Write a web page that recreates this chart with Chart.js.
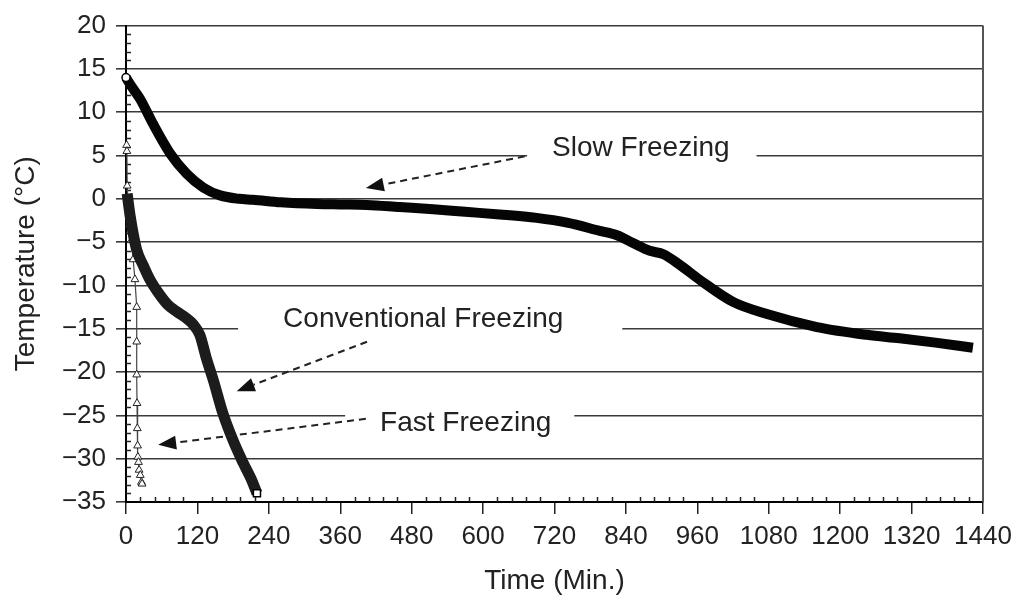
<!DOCTYPE html>
<html>
<head>
<meta charset="utf-8">
<title>Freezing curves</title>
<script src="https://cdn.jsdelivr.net/npm/chart.js@4.4.1/dist/chart.umd.min.js"></script>
<style>
  html, body { margin: 0; padding: 0; background: #fff; }
  #wrap { width: 1020px; height: 598px; }
</style>
</head>
<body>
<div id="wrap"><canvas id="freezeChart" width="1020" height="598"></canvas></div>
<script>
// values: time in minutes, temperature in °C
const slowTime = [0, 10, 24, 45, 74, 102, 130, 158, 190, 213, 260, 321, 360, 405, 460, 516, 570, 628, 690, 741, 796, 825, 852, 880, 903, 930, 965, 1020, 1077, 1161, 1245, 1300, 1360, 1423];
const slowTemp = [14, 12.9, 11.5, 8.7, 5.25, 2.9, 1.3, 0.4, 0, -0.1, -0.4, -0.6, -0.65, -0.7, -0.95, -1.2, -1.5, -1.8, -2.2, -2.75, -3.7, -4.2, -5.1, -6.0, -6.4, -7.6, -9.4, -11.9, -13.3, -14.8, -15.7, -16.1, -16.6, -17.2];

const convTime = [2, 4, 7, 12, 18, 29, 40, 57, 70, 85, 100, 113, 124, 135, 147, 163, 180, 197, 210, 220];
const convTemp = [0.6, -0.5, -2, -4, -5.9, -7.7, -9.3, -11.1, -12.2, -13, -13.7, -14.5, -15.7, -18.4, -21, -24.8, -27.9, -30.5, -32.3, -34];

const fastTime = [1, 1.5, 2, 4, 6, 9, 12, 15, 18, 18, 18, 18.5, 19, 19.5, 20, 21, 22, 24, 26, 27];
const fastTemp = [6.2, 5.5, 1.5, -1, -3, -4.8, -7, -9.3, -12.5, -16.5, -20.3, -23.6, -26.5, -28.5, -29.8, -30.4, -31.3, -31.9, -32.7, -32.9];

const timeTicks = [0, 120, 240, 360, 480, 600, 720, 840, 960, 1080, 1200, 1320, 1440];
const tempTicks = [-35, -30, -25, -20, -15, -10, -5, 0, 5, 10, 15, 20];

// curve labels and arrows, placed in data units
const notes = [
  { text: 'Slow Freezing', t: 716, temp: 4.9, padL: 25, padR: 27 },
  { text: 'Conventional Freezing', t: 264, temp: -14.76, padL: 45, padR: 59 },
  { text: 'Fast Freezing', t: 427, temp: -26.8, padL: 35, padR: 23 }
];
const arrows = [
  { from: [670, 4.9], to: [403, 1.25] },
  { from: [405, -16.5], to: [186, -22.2] },
  { from: [403, -25.4], to: [54, -28.4] }
];

const FONT = '"Liberation Sans", Arial, Helvetica, sans-serif';
const INK = '#222';

function toPoints(xs, ys) {
  return xs.map((v, i) => ({ x: v, y: ys[i] }));
}

const decorations = {
  id: 'decorations',
  beforeDatasetsDraw(chart) {
    const { ctx, scales: { x, y } } = chart;
    ctx.save();

    // minor ticks
    ctx.strokeStyle = INK;
    ctx.lineWidth = 1.5;
    for (let t = 0; t <= 1440; t += 24) {
      if (t % 120 === 0) continue;
      const px = Math.round(x.getPixelForValue(t)) + 0.5;
      ctx.beginPath();
      ctx.moveTo(px, y.bottom);
      ctx.lineTo(px, y.bottom - 5);
      ctx.stroke();
    }
    for (let v = -35; v <= 20; v++) {
      if (v % 5 === 0) continue;
      const py = Math.round(y.getPixelForValue(v)) + 0.5;
      ctx.beginPath();
      ctx.moveTo(x.left, py);
      ctx.lineTo(x.left + 5, py);
      ctx.stroke();
    }

    // right frame line
    ctx.strokeStyle = '#555';
    ctx.lineWidth = 2;
    const rx = x.getPixelForValue(1440);
    ctx.beginPath();
    ctx.moveTo(rx, y.top);
    ctx.lineTo(rx, y.bottom);
    ctx.stroke();

    // label texts with a white gap in the gridline
    ctx.font = '28px ' + FONT;
    ctx.textBaseline = 'alphabetic';
    notes.forEach(n => {
      const px = x.getPixelForValue(n.t);
      const py = y.getPixelForValue(n.temp);
      const w = ctx.measureText(n.text).width;
      ctx.fillStyle = '#fff';
      ctx.fillRect(px - n.padL, py - 26, w + n.padL + n.padR, 34);
      ctx.fillStyle = INK;
      ctx.fillText(n.text, px, py);
    });
    ctx.restore();
  },
  afterDatasetsDraw(chart) {
    const { ctx, scales: { x, y } } = chart;
    ctx.save();
    ctx.strokeStyle = INK;
    ctx.fillStyle = '#111';
    ctx.lineWidth = 2;
    arrows.forEach(a => {
      const x0 = x.getPixelForValue(a.from[0]), y0 = y.getPixelForValue(a.from[1]);
      const x1 = x.getPixelForValue(a.to[0]), y1 = y.getPixelForValue(a.to[1]);
      const ang = Math.atan2(y1 - y0, x1 - x0);
      const headLen = 18, headW = 7;
      const bx = x1 - headLen * Math.cos(ang), by = y1 - headLen * Math.sin(ang);
      ctx.setLineDash([7, 5]);
      ctx.beginPath();
      ctx.moveTo(x0, y0);
      ctx.lineTo(bx, by);
      ctx.stroke();
      ctx.setLineDash([]);
      ctx.beginPath();
      ctx.moveTo(x1, y1);
      ctx.lineTo(bx + headW * Math.sin(ang), by - headW * Math.cos(ang));
      ctx.lineTo(bx - headW * Math.sin(ang), by + headW * Math.cos(ang));
      ctx.closePath();
      ctx.fill();
    });
    ctx.restore();
  }
};

new Chart(document.getElementById('freezeChart'), {
  type: 'scatter',
  data: {
    datasets: [
      {
        label: 'Slow Freezing',
        data: toPoints(slowTime, slowTemp),
        showLine: true,
        borderColor: '#050505',
        borderWidth: 10,
        cubicInterpolationMode: 'monotone',
        pointRadius: ctx => ctx.dataIndex === 0 ? 4 : 0,
        pointBackgroundColor: '#fff',
        pointBorderColor: '#000',
        pointBorderWidth: 1.5,
        clip: 8
      },
      {
        label: 'Conventional Freezing',
        data: toPoints(convTime, convTemp),
        showLine: true,
        borderColor: '#1c1c1c',
        borderWidth: 11,
        cubicInterpolationMode: 'monotone',
        pointStyle: 'rect',
        pointRadius: ctx => ctx.dataIndex === convTime.length - 1 ? 5 : 0,
        pointBackgroundColor: '#fff',
        pointBorderColor: '#000',
        pointBorderWidth: 1.5,
        clip: 8
      },
      {
        label: 'Fast Freezing',
        data: toPoints(fastTime, fastTemp),
        showLine: true,
        borderColor: '#444',
        borderWidth: 1.2,
        tension: 0,
        pointStyle: 'triangle',
        pointRadius: 4.5,
        pointBackgroundColor: '#fff',
        pointBorderColor: '#222',
        pointBorderWidth: 1,
        clip: 8
      }
    ]
  },
  options: {
    responsive: false,
    animation: false,
    layout: { padding: { top: 21, right: 37, left: 0, bottom: 0 } },
    plugins: {
      legend: { display: false },
      tooltip: { enabled: false }
    },
    scales: {
      x: {
        type: 'linear',
        min: 0,
        max: 1440,
        afterFit: scale => { scale.height = 96; },
        afterBuildTicks: scale => { scale.ticks = timeTicks.map(v => ({ value: v })); },
        grid: { drawOnChartArea: false, drawTicks: true, tickLength: 12, color: INK, lineWidth: 1.5 },
        border: { color: '#000', width: 2 },
        ticks: {
          color: INK,
          font: { family: FONT, size: 26 },
          padding: 7,
          maxRotation: 0,
          autoSkip: false,
          callback: v => String(v)
        },
        title: { display: true, text: 'Time (Min.)', color: INK, font: { family: FONT, size: 28 }, padding: { top: 0, bottom: 0 } }
      },
      y: {
        type: 'linear',
        min: -35,
        max: 20,
        afterFit: scale => { scale.width = 126; },
        afterBuildTicks: scale => { scale.ticks = tempTicks.map(v => ({ value: v })); },
        grid: { drawTicks: true, tickLength: 10, color: '#3a3a3a', lineWidth: 1.6 },
        border: { color: '#000', width: 2 },
        ticks: {
          color: INK,
          font: { family: FONT, size: 26 },
          padding: 10,
          autoSkip: false,
          callback: v => String(v).replace('-', '\u2212')
        },
        title: { display: true, text: 'Temperature (\u00B0C)', color: INK, font: { family: FONT, size: 28 }, padding: { top: 9, bottom: 0 } }
      }
    }
  },
  plugins: [decorations]
});
</script>
</body>
</html>
